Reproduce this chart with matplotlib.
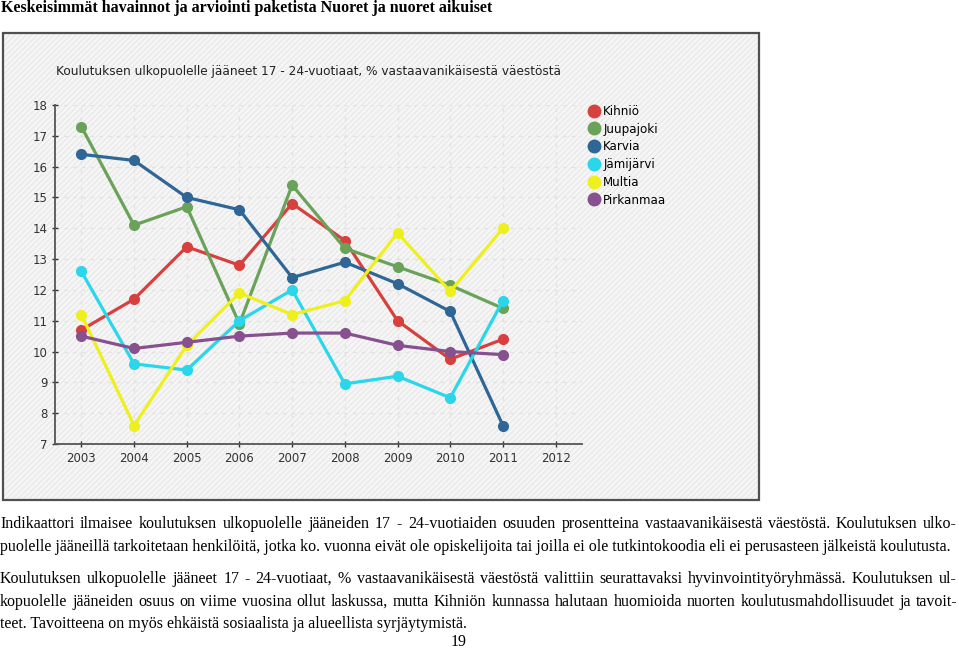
import matplotlib
matplotlib.use('Agg')
import matplotlib.pyplot as plt
from matplotlib.patches import Rectangle
from matplotlib.lines import Line2D


W, H = 959, 649

years = [2003, 2004, 2005, 2006, 2007, 2008, 2009, 2010, 2011]
x_ticks = [2003, 2004, 2005, 2006, 2007, 2008, 2009, 2010, 2011, 2012]
y_ticks = [7, 8, 9, 10, 11, 12, 13, 14, 15, 16, 17, 18]

kihnio = [10.7, 11.7, 13.4, 12.8, 14.8, 13.6, 11.0, 9.75, 10.4]
juupajoki = [17.3, 14.1, 14.7, 10.9, 15.4, 13.35, 12.75, 12.15, 11.4]
karvia = [16.4, 16.2, 15.0, 14.6, 12.4, 12.9, 12.2, 11.3, 7.6]
jamijarvi = [12.6, 9.6, 9.4, 11.0, 12.0, 8.95, 9.2, 8.5, 11.65]
multia = [11.2, 7.6, 10.2, 11.9, 11.2, 11.65, 13.85, 11.95, 14.0]
pirkanmaa = [10.5, 10.1, 10.3, 10.5, 10.6, 10.6, 10.2, 10.0, 9.9]

series_names = ['Kihniö', 'Juupajoki', 'Karvia', 'Jämijärvi', 'Multia', 'Pirkanmaa']
series_vals = [kihnio, juupajoki, karvia, jamijarvi, multia, pirkanmaa]
colors = ['#d6413f', '#6aa25a', '#2f6696', '#2ad6ea', '#eef01e', '#87508f']

page_title = 'Keskeisimmät havainnot ja arviointi paketista Nuoret ja nuoret aikuiset'
chart_title = 'Koulutuksen ulkopuolelle jääneet 17 - 24-vuotiaat, % vastaavanikäisestä väestöstä'

para1 = [
    'Indikaattori ilmaisee koulutuksen ulkopuolelle jääneiden 17 - 24-vuotiaiden osuuden prosentteina vastaavanikäisestä väestöstä. Koulutuksen ulko-',
    'puolelle jääneillä tarkoitetaan henkilöitä, jotka ko. vuonna eivät ole opiskelijoita tai joilla ei ole tutkintokoodia eli ei perusasteen jälkeistä koulutusta.',
]
para2 = [
    'Koulutuksen ulkopuolelle jääneet 17 - 24-vuotiaat, % vastaavanikäisestä väestöstä valittiin seurattavaksi hyvinvointityöryhmässä. Koulutuksen ul-',
    'kopuolelle jääneiden osuus on viime vuosina ollut laskussa, mutta Kihniön kunnassa halutaan huomioida nuorten koulutusmahdollisuudet ja tavoit-',
    'teet. Tavoitteena on myös ehkäistä sosiaalista ja alueellista syrjäytymistä.',
]
page_number = '19'

BODY = 11.5


def fx(px):
    return px / W


def fy(py):
    return 1 - py / H


def justify(fig, line, y, x0, x1, size, last=False):
    # place words one by one so the line fills x0..x1 like the PDF text
    r = fig.canvas.get_renderer()
    words = line.split(' ')
    if last:
        fig.text(fx(x0), fy(y), line, fontsize=size, family='Liberation Serif', va='center')
        return
    widths = []
    for w in words:
        t = fig.text(0, 0, w, fontsize=size, family='Liberation Serif')
        widths.append(t.get_window_extent(renderer=r).width)
        t.remove()
    gap = (x1 - x0 - sum(widths)) / (len(words) - 1)
    x = x0
    for w, wd in zip(words, widths):
        fig.text(fx(x), fy(y), w, fontsize=size, family='Liberation Serif', va='center')
        x += wd + gap


fig = plt.figure(figsize=(W / 100, H / 100), dpi=100)
fig.patch.set_facecolor('white')

fig.text(fx(1), fy(8), page_title, fontsize=11.5, fontweight='bold',
         family='Liberation Serif', va='center')

# chart frame
frame = Rectangle((fx(3), fy(500)), fx(756), 467 / H, transform=fig.transFigure,
                  facecolor='#f6f6f6', edgecolor='#e9e9e9', hatch='//////', lw=0, zorder=-2)
fig.patches.append(frame)
border = Rectangle((fx(3), fy(500)), fx(756), 467 / H, transform=fig.transFigure,
                   facecolor='none', edgecolor='#505050', lw=1.6, zorder=-1)
fig.patches.append(border)

fig.text(fx(56), fy(72), chart_title, fontsize=8.75, color='#222222', va='center')

ax = fig.add_axes([fx(55), fy(444), fx(527), (444 - 105) / H])
ax.set_zorder(2)
ax.set_facecolor('none')
for name, vals, c in zip(series_names, series_vals, colors):
    ax.plot(years, vals, '-o', color=c, lw=2.3, ms=7, label=name)

ax.set_xlim(2002.5, 2012.5)
ax.set_ylim(7, 18)
ax.set_xticks(x_ticks)
ax.set_yticks(y_ticks)
ax.tick_params(labelsize=8.5, colors='#333333', length=4, direction='inout', width=1)
ax.grid(True, ls=(0, (3, 4)), color='#e2e2e2', lw=0.9)
ax.set_axisbelow(True)
for s in ['top', 'right']:
    ax.spines[s].set_visible(False)
for s in ['left', 'bottom']:
    ax.spines[s].set_color('#555555')
    ax.spines[s].set_linewidth(1.3)

handles = [Line2D([], [], ls='none', marker='o', color=c, ms=9) for c in colors]
leg = fig.legend(handles, series_names, loc='upper left', bbox_to_anchor=(fx(583), fy(100)),
                 frameon=False, fontsize=8.6, handletextpad=0.3, labelspacing=0.4,
                 handlelength=1.0, borderaxespad=0)
leg.set_zorder(3)

justify(fig, para1[0], 524, 0, 957, BODY)
justify(fig, para1[1], 547, 0, 957, BODY, last=True)
justify(fig, para2[0], 579, 0, 957, BODY)
justify(fig, para2[1], 602, 0, 957, BODY)
justify(fig, para2[2], 624, 0, 957, BODY, last=True)
fig.text(fx(459), fy(642), page_number, fontsize=BODY, family='Liberation Serif',
         ha='center', va='center')

fig.savefig('out.png', dpi=100)
